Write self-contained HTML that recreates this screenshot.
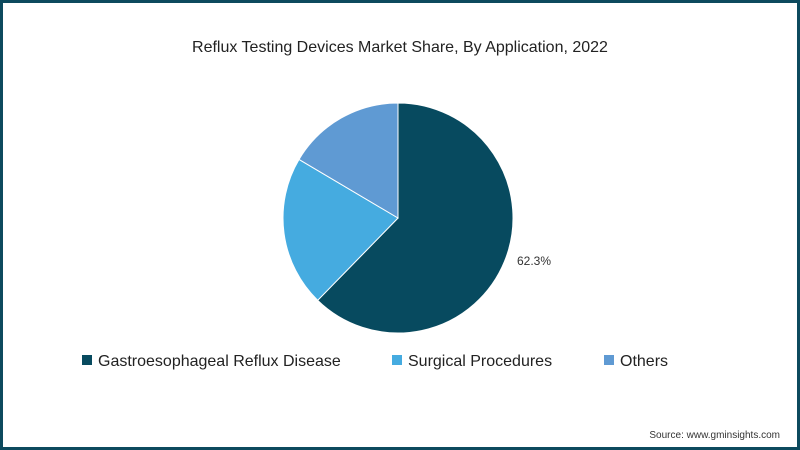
<!DOCTYPE html>
<html><head><meta charset="utf-8"><style>
html,body{margin:0;padding:0}
body{width:800px;height:450px;overflow:hidden;background:#fff;font-family:"Liberation Sans",sans-serif}
#frame{position:absolute;left:0;top:0;width:794px;height:444px;border:3px solid #0d4a5e;background:#fff}
</style></head><body>
<div id="frame"></div>
<svg width="800" height="450" style="position:absolute;left:0;top:0" id="svg">
<text x="400" y="52" text-anchor="middle" font-size="16" fill="#222">Reflux Testing Devices Market Share, By Application, 2022</text>
<g id="slices"></g>
<text x="517" y="265" font-size="12" fill="#333" id="lbl">62.3%</text>
<g>
<rect x="82" y="355" width="10" height="10" fill="#074a5f"/>
<text x="98" y="366" font-size="16" fill="#222">Gastroesophageal Reflux Disease</text>
<rect x="392" y="355" width="10" height="10" fill="#45abe0"/>
<text x="408" y="366" font-size="16" fill="#222">Surgical Procedures</text>
<rect x="604" y="355" width="10" height="10" fill="#5f9ad3"/>
<text x="620" y="366" font-size="16" fill="#222">Others</text>
</g>
<text x="780" y="438" text-anchor="end" font-size="10" fill="#333">Source: www.gminsights.com</text>
</svg>
<script>
const categories=["Gastroesophageal Reflux Disease","Surgical Procedures","Others"];
const shares=[62.3,21.2,16.5];
const colors=["#074a5f","#45abe0","#5f9ad3"];
const names=["slice-gerd","slice-surgical","slice-others"];
const cx=398,cy=218,r=115;
const g=document.getElementById('slices');
const total=shares.reduce((a,b)=>a+b,0);
let a0=0;
shares.forEach((v,i)=>{
  const a1=a0+v/total*2*Math.PI;
  const x0=cx+r*Math.sin(a0),y0=cy-r*Math.cos(a0);
  const x1=cx+r*Math.sin(a1),y1=cy-r*Math.cos(a1);
  const p=document.createElementNS('http://www.w3.org/2000/svg','path');
  p.setAttribute('d',`M${cx},${cy}L${x0},${y0}A${r},${r} 0 ${a1-a0>Math.PI?1:0} 1 ${x1},${y1}Z`);
  p.setAttribute('fill',colors[i]);
  p.setAttribute('stroke','#fff');
  p.setAttribute('stroke-width','1');
  
  
  g.appendChild(p);
  a0=a1;
});
document.getElementById('lbl').textContent=shares[0]+"%";
</script>
</body></html>
